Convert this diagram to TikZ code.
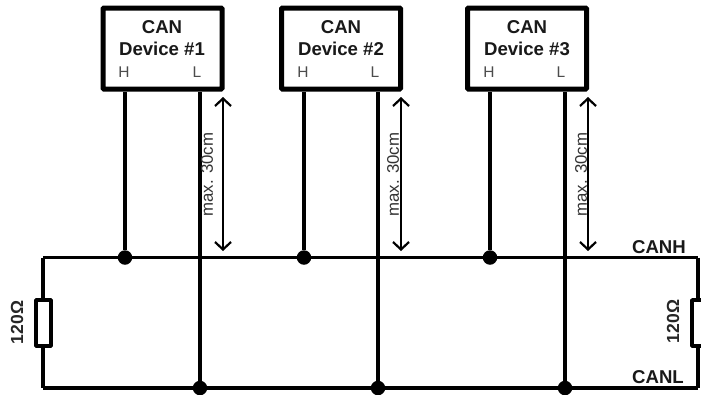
\documentclass[tikz,border=0pt]{standalone}
\usepackage{fontspec}
\setmainfont{Liberation Sans}
\newcommand{\fs}[1]{\fontsize{#1}{#1}\selectfont}
\tikzset{
  x=1pt,y=-1pt,
  devbox/.style={draw=black,line width=5pt,minimum width=119pt,minimum height=81pt,inner sep=0pt,rounded corners=0.8pt},
  wire/.style={draw=black,line width=3.7pt,line join=round},
  thinarrow/.style={draw=black,line width=2.2pt,{Straight Barb[length=7.5pt,width=16pt,line width=2.2pt]}-{Straight Barb[length=7.5pt,width=16pt,line width=2.2pt]}},
  dot/.style={circle,fill=black,inner sep=0pt,minimum size=14.5pt},
  title/.style={font=\fs{18.6}\bfseries,align=center,text=black!90,inner sep=0pt},
  pin/.style={font=\fs{15.5},text=black!70,inner sep=0pt},
  measure/.style={font=\fs{16.8},rotate=90,text=black!80,inner sep=0pt},
  rlabel/.style={font=\fs{17.5}\bfseries,rotate=90,text=black!85,inner sep=0pt},
  buslabel/.style={font=\fs{18.6}\bfseries,text=black!90,inner sep=0pt},
  res/.style={draw=black,line width=3.7pt,fill=white,minimum width=15pt,minimum height=46pt,inner sep=0pt,rounded corners=0.6pt},
}
\usetikzlibrary{arrows.meta}
\begin{document}
\begin{tikzpicture}
\useasboundingbox (0,0) rectangle (701,394);
\path[fill=white] (0,0) rectangle (701,394);
% corners and junctions
\coordinate (tl) at (43,257.5);
\coordinate (tr) at (698,257.5);
\coordinate (bl) at (43,388);
\coordinate (br) at (698,388);
\node[dot] (h1) at (125,257.5) {};
\node[dot] (h2) at (304,257.5) {};
\node[dot] (h3) at (490,257.5) {};
\node[dot] (l1) at (200,388) {};
\node[dot] (l2) at (378,388) {};
\node[dot] (l3) at (565,388) {};
% devices
\node[devbox] (d1) at (162.5,48.5) {};
\node[devbox] (d2) at (341,48.5) {};
\node[devbox] (d3) at (527,48.5) {};
\node[title] (t1) at (162,38) {CAN\\[3pt]Device \#1};
\node[title] (t2) at (341,38) {CAN\\[3pt]Device \#2};
\node[title] (t3) at (527,38) {CAN\\[3pt]Device \#3};
\node[pin] (p1h) at (124,72.5) {H};
\node[pin] (p1l) at (197,72.5) {L};
\node[pin] (p2h) at (303,72.5) {H};
\node[pin] (p2l) at (375,72.5) {L};
\node[pin] (p3h) at (489,72.5) {H};
\node[pin] (p3l) at (561,72.5) {L};
% buses
\draw[wire] (tl) -- (tr);
\draw[wire] (bl) -- (br);
\draw[wire] (tl) -- (bl);
\draw[wire] (tr) -- (br);
% stubs
\draw[wire] (h1) -- (h1 |- d1.south);
\draw[wire] (h2) -- (h2 |- d2.south);
\draw[wire] (h3) -- (h3 |- d3.south);
\draw[wire] (l1) -- (l1 |- d1.south);
\draw[wire] (l2) -- (l2 |- d2.south);
\draw[wire] (l3) -- (l3 |- d3.south);
% resistors
\node[res] (r1) at (43.5,323) {};
\node[res] (r2) at (699.5,323) {};
\node[rlabel] (r1t) at (17,322.5) {120Ω};
\node[rlabel] (r2t) at (673,321.5) {120Ω};
% arrows
\coordinate (a1t) at (223,97); \coordinate (a1b) at (223,251);
\coordinate (a2t) at (401,97); \coordinate (a2b) at (401,251);
\coordinate (a3t) at (588,97); \coordinate (a3b) at (588,251);
\draw[thinarrow] (a1t) -- (a1b);
\draw[thinarrow] (a2t) -- (a2b);
\draw[thinarrow] (a3t) -- (a3b);
\node[measure] (m1) at (207,174.5) {max. 30cm};
\node[measure] (m2) at (393,174.5) {max. 30cm};
\node[measure] (m3) at (581,174.5) {max. 30cm};
% labels
\node[buslabel,anchor=east] (ch) at (686,247) {CANH};
\node[buslabel,anchor=east] (cl) at (684,377) {CANL};
\end{tikzpicture}
\end{document}
